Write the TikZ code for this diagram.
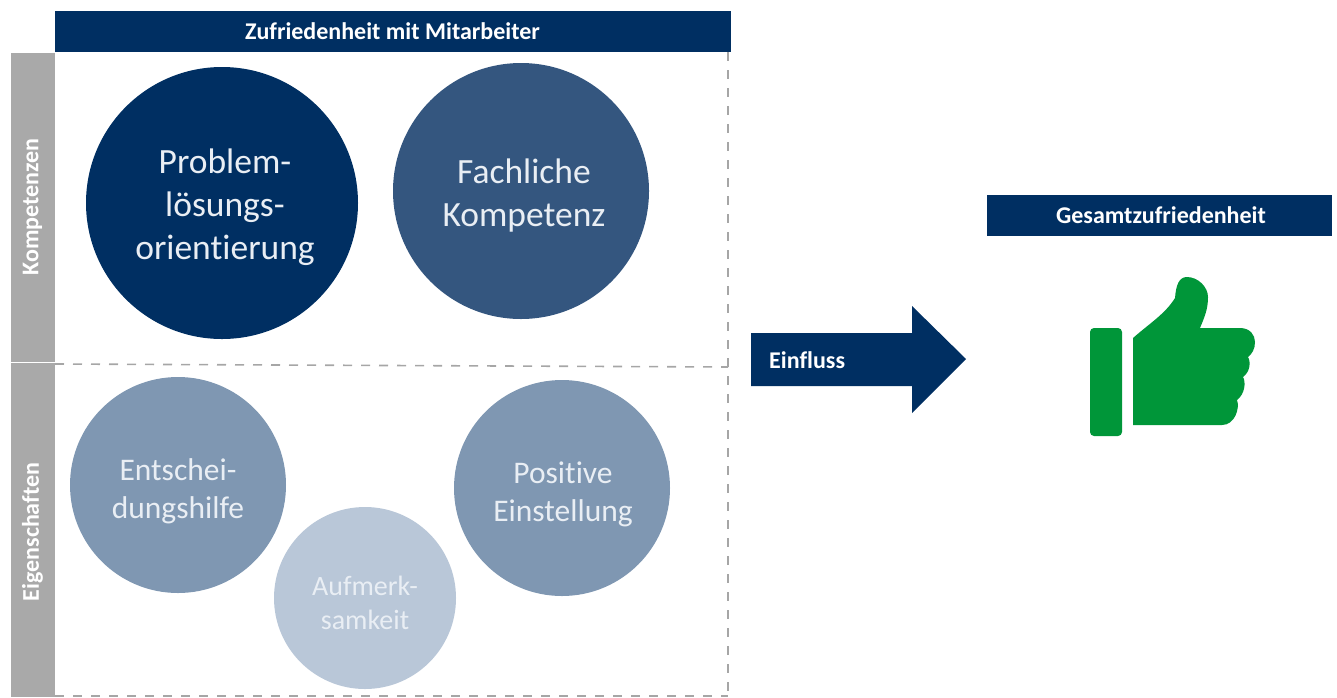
\documentclass[tikz,border=0pt]{standalone}
\usepackage{fontspec}
\setmainfont{Carlito}[Ligatures=NoCommon]
\definecolor{navy}{HTML}{002F62}
\definecolor{blueA}{HTML}{34567F}
\definecolor{blueB}{HTML}{7F97B2}
\definecolor{blueC}{HTML}{B9C7D8}
\definecolor{sidegray}{HTML}{A9A9A9}
\definecolor{dashgray}{HTML}{A6A6A6}
\definecolor{thumbgreen}{HTML}{009639}
\definecolor{softwhite}{HTML}{E9EEF4}
\tikzset{
  x=1pt,y=-1pt,
  headbar/.style={fill=navy,draw=none,text=white,font=\fontsize{24}{26}\selectfont\bfseries,inner sep=0pt,anchor=center},
  sidebar/.style={fill=sidegray,draw=none,text=white,font=\fontsize{24}{26}\selectfont\bfseries,inner sep=0pt,rotate=90,anchor=center},
  bubble/.style={circle,draw=none,inner sep=0pt},
  bubbletext/.style={inner sep=0pt,align=center,text=softwhite},
  guide/.style={draw=dashgray,line width=1.6pt,dash pattern=on 9pt off 9pt},
}
\begin{document}
\begin{tikzpicture}
\useasboundingbox (0,0) rectangle (1337,697);
% dashed guides
\coordinate (tr) at (728,52);
\coordinate (br) at (728,696);
\coordinate (bl) at (55,696);
\coordinate (ml) at (55,364);
\coordinate (mr) at (728,367);
\draw[guide] (tr) -- (br);
\draw[guide] (bl) -- (br);
\draw[guide] (ml) -- (mr);
% headers
\node[headbar,minimum width=676pt,minimum height=41pt] (head) at (392.5,31.5) {Zufriedenheit mit Mitarbeiter};
\node[headbar,minimum width=345pt,minimum height=41pt] (total) at (1159.5,215) {};
\node[text=white,font=\fontsize{24}{26}\selectfont\bfseries,inner sep=0pt] (totaltext) at (1161,215) {Gesamtzufriedenheit};
% side bars
\node[sidebar,minimum width=309pt,minimum height=44pt] (komp) at (32.5,207) {Kompetenzen};
\node[sidebar,minimum width=334pt,minimum height=44pt] (eig) at (32.5,530) {};
\node[text=white,font=\fontsize{24}{26}\selectfont\bfseries,inner sep=0pt,rotate=90] (eigt) at (32.5,532) {Eigenschaften};
% bubbles
\node[bubble,fill=navy,minimum size=272pt] (prob) at (222,203) {};
\node[bubble,fill=blueA,minimum size=256pt] (fach) at (521,191) {};
\node[bubble,fill=blueB,minimum size=216pt] (ent) at (178,485) {};
\node[bubble,fill=blueB,minimum size=216pt] (pos) at (562,488) {};
\node[bubble,fill=blueC,minimum size=182pt] (auf) at (365,598) {};
\node[bubbletext,font=\fontsize{35.5}{43}\selectfont] (probt) at ([xshift=3pt,yshift=-4pt]prob.center) {Problem-\\lösungs-\\orientierung};
\node[bubbletext,font=\fontsize{35.5}{43}\selectfont] (facht) at ([xshift=3pt,yshift=-5pt]fach.center) {Fachliche\\Kompetenz};
\node[bubbletext,font=\fontsize{31.5}{38}\selectfont] (entt) at ([xshift=0pt,yshift=-6pt]ent.center) {Entschei-\\dungshilfe};
\node[bubbletext,font=\fontsize{31.5}{38}\selectfont] (post) at ([xshift=1pt,yshift=-6pt]pos.center) {Positive\\Einstellung};
\node[bubbletext,font=\fontsize{28}{34}\selectfont] (auft) at ([yshift=-5pt]auf.center) {Aufmerk-\\samkeit};
% arrow
\fill[navy] (751,333) -- (912,333) -- (912,306) -- (966,359) -- (912,413) -- (912,386) -- (751,386) -- cycle;
\node[text=white,font=\fontsize{24}{26}\selectfont\bfseries,anchor=west,inner sep=0pt] (einfluss) at (769,360) {Einfluss};
% thumb
\fill[thumbgreen,rounded corners=4pt] (1090,328) rectangle (1122,436);
\fill[thumbgreen] (1133,338)
  .. controls (1150,323) and (1165,314) .. (1175,298)
  .. controls (1176,285) and (1179,277) .. (1187,277)
  .. controls (1198,277) and (1208,287) .. (1208,297)
  .. controls (1208,310) and (1204,318) .. (1200,328)
  -- (1240,328)
  .. controls (1250,328) and (1255,335) .. (1255,342)
  .. controls (1255,349) and (1252,354) .. (1248,357)
  .. controls (1251,362) and (1250,372) .. (1243,377)
  .. controls (1246,382) and (1245,394) .. (1237,400)
  .. controls (1240,408) and (1235,425) .. (1222,425)
  -- (1133,425) -- cycle;
\end{tikzpicture}
\end{document}
